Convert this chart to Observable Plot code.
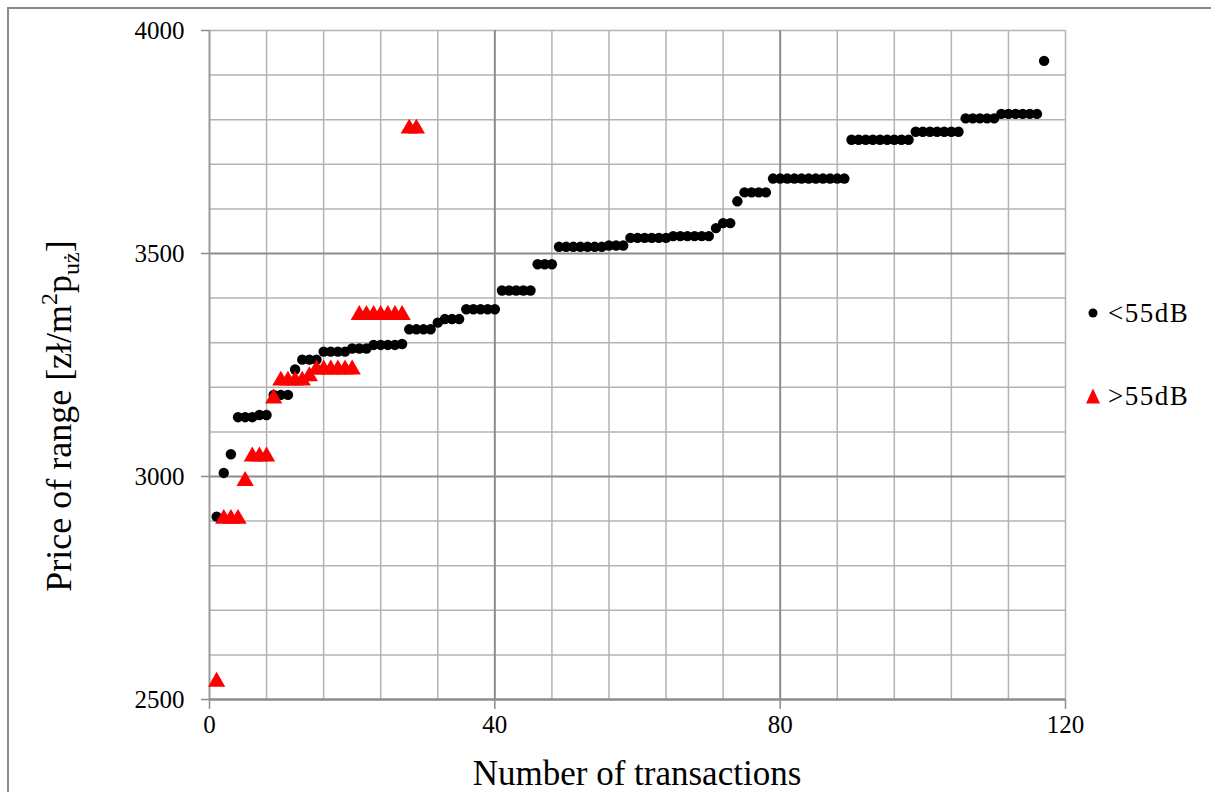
<!DOCTYPE html>
<html><head><meta charset="utf-8">
<script src="https://cdn.jsdelivr.net/npm/d3@7"></script>
<script src="https://cdn.jsdelivr.net/npm/@observablehq/plot@0.6"></script>
<style>
body{margin:0;background:#fff;}
#wrap{position:relative;width:1211px;height:792px;overflow:hidden;font-family:'Liberation Serif','Times New Roman',serif;background:#fff;}
#frame{position:absolute;left:7px;top:7px;width:1300px;height:900px;border-left:2px solid #8a8a8a;border-top:2px solid #8a8a8a;}
#chart{position:absolute;left:0;top:0;}
.leg{position:absolute;left:1083px;height:30px;display:flex;align-items:center;font-family:'Liberation Serif';font-size:27px;letter-spacing:1.5px;color:#000;white-space:nowrap;}
.leg svg{margin-right:5px;}
</style></head>
<body><div id="wrap"><div id="frame"></div><div id="chart"></div>
<div class="leg" style="top:298px"><svg width="20" height="20"><circle cx="10" cy="10" r="4.5" fill="#000"/></svg>&lt;55dB</div>
<div class="leg" style="top:381px"><svg width="20" height="20"><path d="M10,2.5L17,17.5L3,17.5Z" fill="#ff0000"/></svg>&gt;55dB</div>
</div>
<script>
// <55dB series
const lowX = [1,2,3,4,5,6,7,8,9,10,11,12,13,14,15,16,17,18,19,20,21,22,23,24,25,26,27,28,29,30,31,32,33,34,35,36,37,38,39,40,41,42,43,44,45,46,47,48,49,50,51,52,53,54,55,56,57,58,59,60,61,62,63,64,65,66,67,68,69,70,71,72,73,74,75,76,77,78,79,80,81,82,83,84,85,86,87,88,89,90,91,92,93,94,95,96,97,98,99,100,101,102,103,104,105,106,107,108,109,110,111,112,113,114,115,116,117];
const lowY = [2910,3008,3050,3133,3133,3133,3138,3138,3183,3183,3183,3240,3262,3262,3262,3280,3280,3280,3280,3287,3287,3287,3295,3295,3295,3295,3297,3330,3330,3330,3330,3345,3353,3353,3353,3375,3375,3375,3375,3375,3417,3417,3417,3417,3417,3476,3476,3476,3515,3515,3515,3515,3515,3515,3515,3518,3518,3518,3535,3535,3535,3535,3535,3535,3539,3539,3539,3539,3539,3539,3557,3568,3568,3617,3637,3637,3637,3637,3668,3668,3668,3668,3668,3668,3668,3668,3668,3668,3668,3755,3755,3755,3755,3755,3755,3755,3755,3755,3773,3773,3773,3773,3773,3773,3773,3803,3803,3803,3803,3803,3813,3813,3813,3813,3813,3813,3932];
// >55dB series
const highX = [1,2,3,4,5,6,7,8,9,10,11,12,13,14,15,16,17,18,19,20,21,22,23,24,25,26,27,28,29];
const highY = [2540,2905,2905,2905,2990,3045,3045,3045,3175,3215,3215,3215,3215,3225,3240,3240,3240,3240,3240,3240,3362,3362,3362,3362,3362,3362,3362,3780,3780];
// axes
const xTicks = [0,40,80,120];
const yTicks = [2500,3000,3500,4000];
const xGrid = [8,16,24,32,48,56,64,72,88,96,104,112,120];
const yGrid = [2600,2700,2800,2900,3100,3200,3300,3400,3600,3700,3800,3900,4000];
const xMajor = [40,80];
const yMajor = [3000,3500];

const low = lowX.map((x,i)=>({x, y: lowY[i]}));
const high = highX.map((x,i)=>({x, y: highY[i]}));

const plot = Plot.plot({
  width: 1211, height: 792,
  marginLeft: 209, marginRight: 146, marginTop: 30, marginBottom: 93,
  x: {domain: [0,120]},
  y: {domain: [2500,4000]},
  style: {fontFamily: "'Liberation Serif', 'Times New Roman', serif", fontSize: "25px", background: "transparent", color: "#000", overflow: "visible"},
  marks: [
    Plot.ruleX(xGrid, {stroke: "#b3b3b3", strokeWidth: 1.5}),
    Plot.ruleY(yGrid, {stroke: "#b3b3b3", strokeWidth: 1.5}),
    Plot.ruleX(xMajor, {stroke: "#8c8c8c", strokeWidth: 2}),
    Plot.ruleY(yMajor, {stroke: "#8c8c8c", strokeWidth: 2}),
    Plot.ruleX([0], {stroke: "#9a9a9a", strokeWidth: 2}),
    Plot.ruleY([2500], {stroke: "#8c8c8c", strokeWidth: 2.5}),
    Plot.axisX({ticks: xTicks, tickSize: 10, tickPadding: 6, stroke: "#8c8c8c", strokeWidth: 1.5, fill: "#000", label: null, tickFormat: d => String(d)}),
    Plot.axisY({ticks: yTicks, tickSize: 8, tickPadding: 17, stroke: "#8c8c8c", strokeWidth: 1.5, fill: "#000", label: null, tickFormat: d => String(d)}),
    Plot.dot(low, {x: "x", y: "y", r: 5.2, fill: "#000", stroke: null}),
    Plot.dot(high, {x: "x", y: "y", symbol: "triangle", r: 6.4, fill: "#ff0000", stroke: null})
  ]
});
document.getElementById("chart").appendChild(plot);

const svg = d3.select(plot);
svg.append("text")
  .attr("x", 637).attr("y", 785)
  .attr("text-anchor", "middle")
  .style("font-size", "35px").style("fill", "#000")
  .text("Number of transactions");

const yt = svg.append("text")
  .attr("transform", "translate(71,416) rotate(-90)")
  .attr("text-anchor", "middle")
  .style("font-size", "36px").style("fill", "#000");
yt.append("tspan").text("Price of range [zł/m");
yt.append("tspan").attr("dy", -14).style("font-size", "24px").text("2");
yt.append("tspan").attr("dy", 14).text("p");
yt.append("tspan").attr("dy", 8).style("font-size", "24px").text("uż");
yt.append("tspan").attr("dy", -8).text("]");
</script>
</body></html>
